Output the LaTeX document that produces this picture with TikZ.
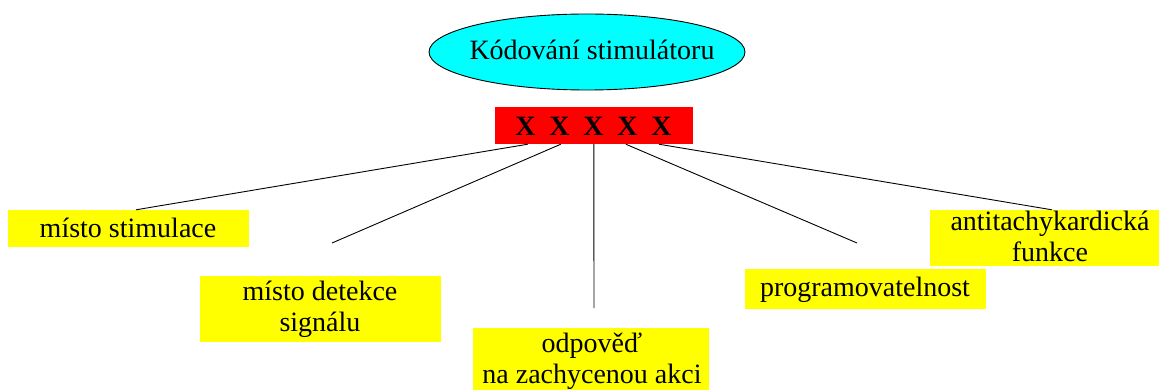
\documentclass[tikz,border=0pt]{standalone}
\usepackage{fontspec}
\setmainfont{Liberation Serif}
\usetikzlibrary{shapes.geometric,calc}
\definecolor{ecyan}{RGB}{0,255,255}
\definecolor{eyellow}{RGB}{255,255,0}
\definecolor{ered}{RGB}{255,0,0}
\begin{document}
\begin{tikzpicture}[x=1pt,y=-1pt,
  every node/.style={font=\fontsize{28}{31}\selectfont},
  ybox/.style={fill=eyellow, draw=none, rectangle, inner sep=0pt, align=center},
  conn/.style={draw=black, line width=0.9pt}]
\useasboundingbox (0,0) rectangle (1159,390);
\node[ellipse, fill=ecyan, draw=black, line width=0.9pt, minimum width=316pt, minimum height=76pt, inner sep=0pt] (top) at (587,52) {};
\node[anchor=base] (toptext) at (592,60) {Kódování stimulátoru};
\node[fill=ered, rectangle, minimum width=198pt, minimum height=37pt, inner sep=0pt] (red) at (594,125.5) {};
\node[anchor=base, font=\fontsize{28}{31}\selectfont\bfseries] (xs) at (593.5,136) {{\spaceskip=13.8pt X X X X X}};
\node[ybox, minimum width=241pt, minimum height=37pt] (b1) at (128.5,228.5) {};
\node[anchor=base] (t1) at (128,237.3) {místo stimulace};
\node[ybox, minimum width=241pt, minimum height=66pt] (b2) at (320.5,309) {};
\node[anchor=base, align=center] (t2) at (320,331.7) {místo detekce\\signálu};
\node[ybox, minimum width=236pt, minimum height=66pt] (b3) at (591,361) {};
\node[anchor=base, align=center] (t3) at (592,383.3) {odpověď\\na zachycenou akci};
\node[ybox, minimum width=241pt, minimum height=40pt] (b4) at (865.5,289) {};
\node[anchor=base] (t4) at (865,296.7) {programovatelnost};
\node[ybox, minimum width=240pt, minimum height=56pt] (b5) at (1050,238) {};
\node[anchor=base, align=center] (t5) at (1050,261) {antitachykardická\\funkce};
\coordinate (s1) at ($(red.south west)+(33,0)$);
\coordinate (s2) at ($(red.south west)+(66,0)$);
\coordinate (s3) at ($(red.south west)+(99,0)$);
\coordinate (s4) at ($(red.south west)+(131,0)$);
\coordinate (s5) at ($(red.south west)+(164,0)$);
\coordinate (e1) at ($(b1.north)+(7.5,0)$);
\coordinate (e2) at (332,243);
\coordinate (e3) at (594,308);
\coordinate (e4) at (857,243);
\coordinate (e5) at ($(b5.north)+(2,0)$);
\draw[conn] (s1) -- (e1);
\draw[conn] (s2) -- (e2);
\draw[conn] (s3) -- (e3);
\draw[conn] (s4) -- (e4);
\draw[conn] (s5) -- (e5);
\end{tikzpicture}
\end{document}
